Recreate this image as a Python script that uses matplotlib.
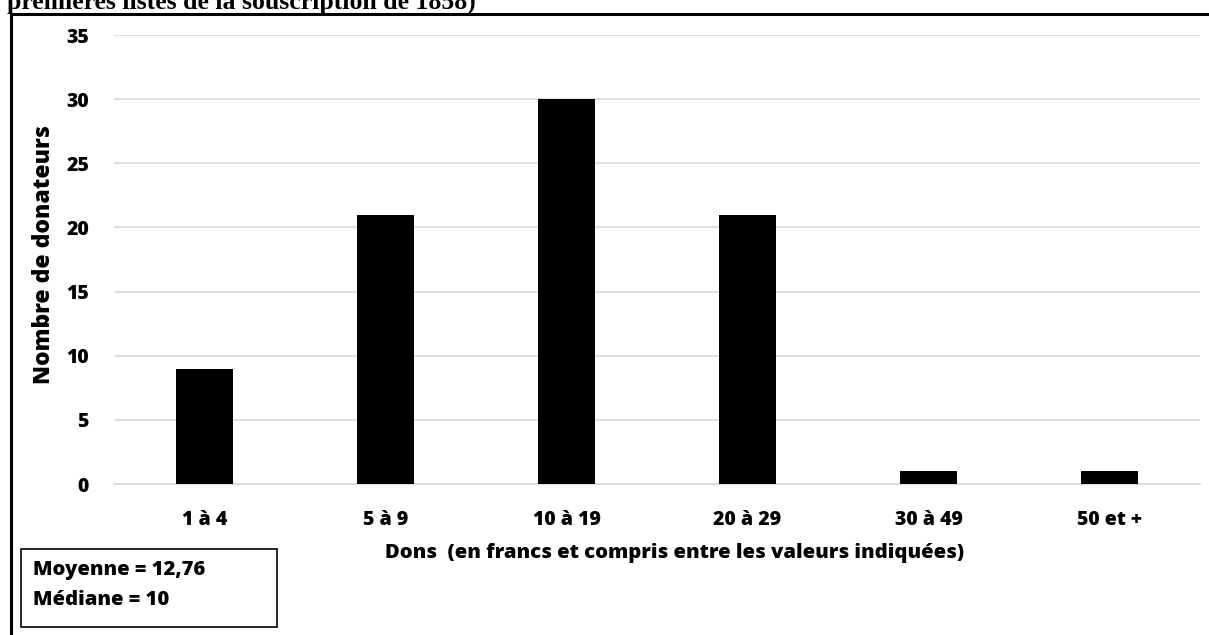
import matplotlib.pyplot as plt
from matplotlib.patches import Rectangle
from matplotlib.lines import Line2D

# Répartition des dons par tranche
tranches = ["1 à 4", "5 à 9", "10 à 19", "20 à 29", "30 à 49", "50 et +"]
donateurs = [9, 21, 30, 21, 1, 1]
moyenne = "12,76"
mediane = "10"

police = ["Open Sans", "DejaVu Sans"]
gras = 800

fig = plt.figure(figsize=(12.09, 6.35), dpi=100)
W, H = 1209, 635

def px(x0, y0, x1, y1):
    # rectangle en pixels (haut-gauche) -> coordonnées figure
    return [x0 / W, 1 - y1 / H, (x1 - x0) / W, (y1 - y0) / H]

ax = fig.add_axes(px(114, 35, 1200, 484))
ax.bar(range(len(tranches)), donateurs, width=0.315, color="black", zorder=3)
ax.set_xlim(-0.5, len(tranches) - 0.5)
ax.set_ylim(0, 35)
ax.set_yticks(range(0, 36, 5))
ax.set_xticks(range(len(tranches)))
ax.set_xticklabels(tranches)
ax.grid(axis="y", color="#d9d9d9", linewidth=1.2, zorder=0)
ax.set_axisbelow(True)
for s in ax.spines.values():
    s.set_visible(False)
ax.spines["bottom"].set_visible(True)
ax.spines["bottom"].set_color("#d9d9d9")
ax.spines["bottom"].set_linewidth(1.2)
ax.tick_params(length=0, labelsize=14)
ax.tick_params(axis="x", pad=19)
ax.tick_params(axis="y", pad=18)
for lab in ax.get_xticklabels() + ax.get_yticklabels():
    lab.set_fontfamily(police)
    lab.set_fontweight(gras)

fig.text(44 / W, 1 - 255 / H, "Nombre de donateurs", rotation=90, ha="center", va="center",
         fontsize=16.5, fontweight=gras, family=police)
fig.text(675 / W, 1 - 553 / H, "Dons  (en francs et compris entre les valeurs indiquées)",
         ha="center", va="center", fontsize=14.6, fontweight=gras, family=police)

# titre coupé en haut de page
fig.text(7 / W, 1 - 9 / H, "premières listes de la souscription de 1858)", ha="left", va="baseline",
         fontsize=18.5, fontweight="bold", family="Liberation Serif")

# cadre du graphique
fig.add_artist(Line2D([11 / W, 11 / W], [0, 1 - 14 / H], color="black", linewidth=2.2))
fig.add_artist(Line2D([11 / W, 1], [1 - 14 / H, 1 - 14 / H], color="black", linewidth=2.2))

# encadré moyenne / médiane
fig.add_artist(Rectangle((21 / W, 1 - 627 / H), 256 / W, 78 / H, transform=fig.transFigure,
                         fill=False, edgecolor="black", linewidth=1.2))
fig.text(33 / W, 1 - 570 / H, f"Moyenne = {moyenne}", ha="left", va="center",
         fontsize=14.6, fontweight=gras, family=police)
fig.text(33 / W, 1 - 600 / H, f"Médiane = {mediane}", ha="left", va="center",
         fontsize=14.6, fontweight=gras, family=police)

fig.savefig("out.png", dpi=100)
